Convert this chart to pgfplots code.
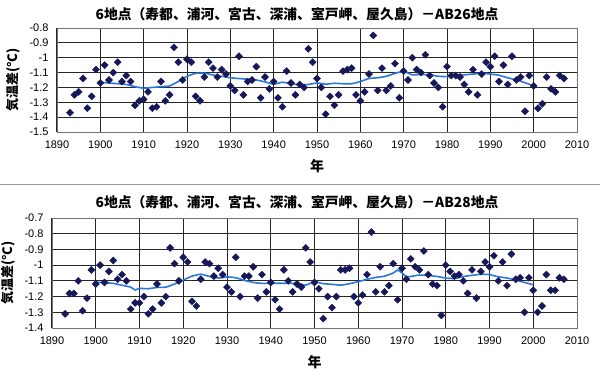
\documentclass[border=0pt]{standalone}
\usepackage{fontspec}
\setmainfont{Liberation Sans}
\newfontfamily\cjk{Noto Sans CJK JP}
\usepackage{pgfplots}
\pgfplotsset{compat=1.18}
\definecolor{mk}{HTML}{16185A}
\definecolor{ln}{HTML}{2A78DC}
\pgfplotsset{
  base/.style={
    scale only axis,
    anchor=south west,
    xmin=1890, xmax=2010,
    xtick={1890,1900,...,2010},
    grid=major,
    major grid style={black!85, line width=1pt},
    axis line style={black!55, line width=0.8pt},
    major tick length=0pt,
    tick style={draw=none},
    /pgf/number format/assume math mode=true,
    xticklabel style={/pgf/number format/1000 sep={}, font=\fontsize{11}{12}\selectfont, yshift=-5pt},
    yticklabel style={font=\fontsize{11}{12}\selectfont, xshift=-5pt},
    xlabel={\cjk\bfseries 年},
    xlabel style={font=\fontsize{14}{15}\selectfont, yshift=-4pt},
    ylabel={\cjk\bfseries 気温差(°C)},
    ylabel style={font=\fontsize{13}{14}\selectfont, yshift=2pt},
    clip=false,
  },
  pts/.style={only marks, mark=square*, mark size=2.5pt, color=mk, mark options={rotate=45, fill=mk, draw=mk}},
  sm/.style={no marks, color=ln, line width=1.6pt, smooth, tension=0.3},
}
\begin{document}
\begin{tikzpicture}[x=1pt,y=1pt]
\path[use as bounding box, fill=white] (0,0) rectangle (600,376);
\draw[black!40, line width=1pt] (0,192) -- (600,192);
\node[font=\cjk\bfseries\fontsize{13.8}{15}\selectfont] at (297,362) {6地点（寿都、浦河、宮古、深浦、室戸岬、屋久島）－AB26地点};
\node[font=\cjk\bfseries\fontsize{13.8}{15}\selectfont] at (297,174) {6地点（寿都、浦河、宮古、深浦、室戸岬、屋久島）－AB28地点};
\begin{axis}[base, at={(57pt,244pt)}, width=520pt, height=104pt,
  ymin=-1.5, ymax=-0.8,
  ytick={-1.5,-1.4,-1.3,-1.2,-1.1,-1,-0.9,-0.8},
  yticklabels={-1.5,-1.4,-1.3,-1.2,-1.1,-1,-0.9,-0.8}]
\addplot[sm] coordinates {
(1900,-1.165)(1902,-1.17)(1904,-1.175)(1906,-1.18)(1908,-1.195)(1910,-1.205)
(1912,-1.20)(1914,-1.195)(1916,-1.19)(1918,-1.16)(1920,-1.125)(1922,-1.105)
(1924,-1.104)(1926,-1.116)(1928,-1.125)(1930,-1.135)(1932,-1.14)(1934,-1.145)
(1936,-1.15)(1938,-1.163)(1940,-1.178)(1942,-1.165)(1944,-1.175)(1946,-1.182)
(1948,-1.18)(1950,-1.17)(1952,-1.178)(1954,-1.172)(1956,-1.175)(1958,-1.175)
(1960,-1.16)(1962,-1.14)(1964,-1.135)(1966,-1.125)(1968,-1.105)(1970,-1.092)
(1972,-1.115)(1974,-1.113)(1976,-1.115)(1978,-1.125)(1980,-1.127)(1982,-1.12)
(1984,-1.115)(1986,-1.11)(1988,-1.105)(1990,-1.11)(1992,-1.118)(1994,-1.135)
(1996,-1.15)(1998,-1.168)(2000,-1.19)};
\addplot[pts] coordinates {
(1893,-1.37)(1894,-1.25)(1895,-1.23)(1896,-1.14)(1897,-1.34)(1898,-1.26)(1899,-1.08)
(1900,-1.17)(1901,-1.05)(1902,-1.15)(1903,-1.10)(1904,-1.03)(1905,-1.16)(1906,-1.12)
(1907,-1.16)(1908,-1.32)(1909,-1.29)(1910,-1.28)(1911,-1.23)(1912,-1.34)(1913,-1.33)
(1914,-1.16)(1915,-1.29)(1916,-1.25)(1917,-0.93)(1918,-1.03)(1919,-1.15)(1920,-1.01)
(1921,-1.03)(1922,-1.26)(1923,-1.29)(1924,-1.13)(1925,-1.03)(1926,-1.07)(1927,-1.13)
(1928,-1.08)(1929,-1.11)(1930,-1.19)(1931,-1.22)(1932,-0.99)(1933,-1.25)(1934,-1.16)
(1935,-1.15)(1936,-1.06)(1937,-1.27)(1938,-1.13)(1939,-1.21)(1940,-1.16)(1941,-1.27)
(1942,-1.33)(1943,-1.09)(1944,-1.17)(1945,-1.25)(1946,-1.18)(1947,-1.20)(1948,-0.94)
(1949,-1.03)(1950,-1.14)(1951,-1.20)(1952,-1.38)(1953,-1.26)(1954,-1.32)(1955,-1.25)
(1956,-1.09)(1957,-1.08)(1958,-1.07)(1959,-1.25)(1960,-1.29)(1961,-1.23)(1962,-1.11)
(1963,-0.85)(1964,-1.22)(1965,-1.07)(1966,-1.22)(1967,-1.19)(1968,-1.04)(1969,-1.27)
(1970,-1.09)(1971,-1.15)(1972,-1.00)(1973,-1.08)(1974,-1.10)(1975,-0.98)(1976,-1.12)
(1977,-1.17)(1978,-1.20)(1979,-1.33)(1980,-1.06)(1981,-1.12)(1982,-1.12)(1983,-1.13)
(1984,-1.18)(1985,-1.23)(1986,-1.08)(1987,-1.25)(1988,-1.11)(1989,-1.03)(1990,-1.06)
(1991,-0.99)(1992,-1.16)(1993,-1.05)(1994,-1.18)(1995,-0.99)(1996,-1.15)(1997,-1.13)
(1998,-1.36)(1999,-1.12)(2000,-1.19)(2001,-1.34)(2002,-1.31)(2003,-1.13)(2004,-1.21)
(2005,-1.23)(2006,-1.12)(2007,-1.14)};
\end{axis}
\begin{axis}[base, at={(52pt,48pt)}, width=525pt, height=110pt,
  ymin=-1.4, ymax=-0.7,
  ytick={-1.4,-1.3,-1.2,-1.1,-1,-0.9,-0.8,-0.7},
  yticklabels={-1.4,-1.3,-1.2,-1.1,-1,-0.9,-0.8,-0.7}]
\addplot[sm] coordinates {
(1900,-1.108)(1902,-1.112)(1904,-1.116)(1906,-1.128)(1908,-1.14)(1909,-1.158)
(1910,-1.148)(1912,-1.15)(1914,-1.142)(1916,-1.14)(1918,-1.12)(1920,-1.095)
(1922,-1.07)(1924,-1.058)(1926,-1.072)(1928,-1.082)(1930,-1.075)(1932,-1.08)
(1934,-1.097)(1936,-1.11)(1938,-1.116)(1940,-1.115)(1942,-1.115)(1944,-1.115)
(1946,-1.118)(1948,-1.127)(1950,-1.106)(1952,-1.118)(1954,-1.122)(1956,-1.127)
(1958,-1.118)(1960,-1.105)(1962,-1.09)(1964,-1.078)(1966,-1.07)(1968,-1.05)
(1969,-1.031)(1970,-1.05)(1971,-1.074)(1972,-1.072)(1974,-1.063)(1976,-1.066)
(1978,-1.072)(1980,-1.082)(1982,-1.085)(1984,-1.072)(1986,-1.065)(1988,-1.058)
(1990,-1.06)(1992,-1.074)(1994,-1.082)(1996,-1.095)(1998,-1.11)(2000,-1.125)};
\addplot[pts] coordinates {
(1893,-1.31)(1894,-1.18)(1895,-1.18)(1896,-1.10)(1897,-1.29)(1898,-1.21)(1899,-1.03)
(1900,-1.12)(1901,-1.00)(1902,-1.11)(1903,-1.04)(1904,-0.97)(1905,-1.09)(1906,-1.06)
(1907,-1.10)(1908,-1.28)(1909,-1.24)(1910,-1.24)(1911,-1.20)(1912,-1.31)(1913,-1.28)
(1914,-1.12)(1915,-1.24)(1916,-1.20)(1917,-0.89)(1918,-0.99)(1919,-1.10)(1920,-0.95)
(1921,-0.98)(1922,-1.23)(1923,-1.26)(1924,-1.09)(1925,-0.98)(1926,-0.99)(1927,-1.07)
(1928,-1.02)(1929,-1.06)(1930,-1.14)(1931,-1.17)(1932,-0.95)(1933,-1.20)(1934,-1.07)
(1935,-1.07)(1936,-1.01)(1937,-1.21)(1938,-1.06)(1939,-1.17)(1940,-1.11)(1941,-1.22)
(1942,-1.28)(1943,-1.03)(1944,-1.10)(1945,-1.17)(1946,-1.12)(1947,-1.14)(1948,-0.89)
(1949,-0.98)(1950,-1.11)(1951,-1.15)(1952,-1.34)(1953,-1.20)(1954,-1.27)(1955,-1.20)
(1956,-1.03)(1957,-1.03)(1958,-1.02)(1959,-1.20)(1960,-1.24)(1961,-1.19)(1962,-1.06)
(1963,-0.79)(1964,-1.17)(1965,-1.01)(1966,-1.17)(1967,-1.13)(1968,-0.99)(1969,-1.22)
(1970,-1.02)(1971,-1.09)(1972,-0.96)(1973,-1.01)(1974,-1.03)(1975,-0.91)(1976,-1.06)
(1977,-1.12)(1978,-1.13)(1979,-1.32)(1980,-1.00)(1981,-1.04)(1982,-1.07)(1983,-1.06)
(1984,-1.10)(1985,-1.18)(1986,-1.03)(1987,-1.21)(1988,-1.04)(1989,-0.98)(1990,-1.01)
(1991,-0.94)(1992,-1.10)(1993,-0.98)(1994,-1.13)(1995,-0.93)(1996,-1.09)(1997,-1.08)
(1998,-1.30)(1999,-1.08)(2000,-1.16)(2001,-1.30)(2002,-1.26)(2003,-1.06)(2004,-1.16)
(2005,-1.16)(2006,-1.08)(2007,-1.09)};
\end{axis}
\end{tikzpicture}
\end{document}
